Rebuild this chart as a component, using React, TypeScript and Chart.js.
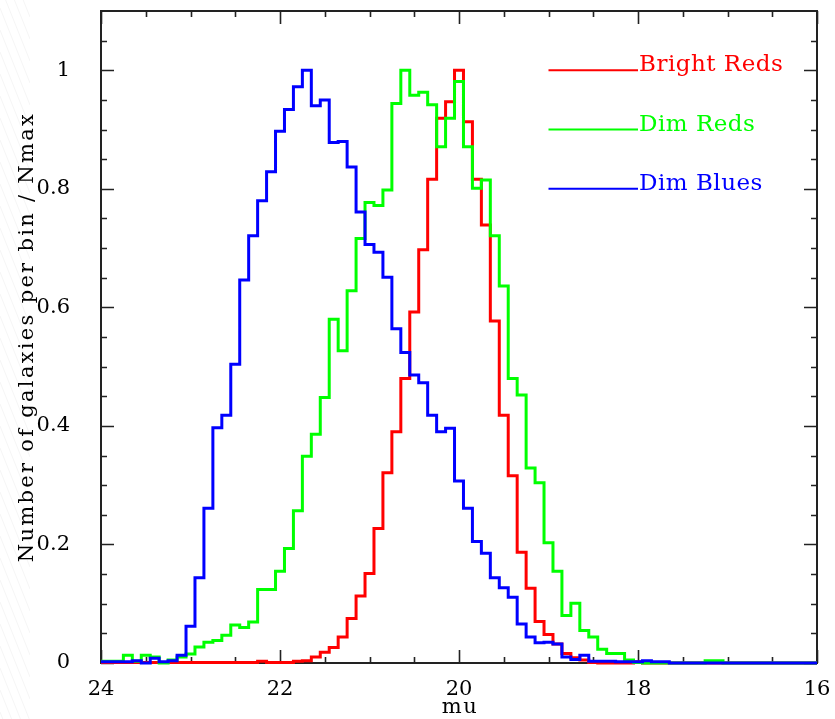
import React, { useEffect, useRef } from "react";
import { Chart, registerables } from "chart.js";

Chart.register(...registerables);

// Bin centres (mu), width 0.1
const binCenters = [
  24.0, 23.9, 23.8, 23.7, 23.6, 23.5, 23.4, 23.3, 23.2, 23.1,
  23.0, 22.9, 22.8, 22.7, 22.6, 22.5, 22.4, 22.3, 22.2, 22.1,
  22.0, 21.9, 21.8, 21.7, 21.6, 21.5, 21.4, 21.3, 21.2, 21.1,
  21.0, 20.9, 20.8, 20.7, 20.6, 20.5, 20.4, 20.3, 20.2, 20.1,
  20.0, 19.9, 19.8, 19.7, 19.6, 19.5, 19.4, 19.3, 19.2, 19.1,
  19.0, 18.9, 18.8, 18.7, 18.6, 18.5, 18.4, 18.3, 18.2, 18.1,
  18.0, 17.9, 17.8, 17.7, 17.6, 17.5, 17.4, 17.3, 17.2, 17.1,
  17.0, 16.9, 16.8, 16.7, 16.6, 16.5, 16.4, 16.3, 16.2, 16.1,
  16.0,
];

const brightReds = [
  0.001, 0.001, 0.001, 0.001, 0.001, 0.001, 0.001, 0.001, 0.001, 0.001,
  0.001, 0.001, 0.001, 0.001, 0.001, 0.001, 0.001, 0.001, 0.003, 0.001,
  0.001, 0.001, 0.003, 0.004, 0.010, 0.018, 0.026, 0.044, 0.075, 0.113,
  0.151, 0.227, 0.321, 0.390, 0.480, 0.592, 0.697, 0.816, 0.919, 0.947,
  1.000, 0.913, 0.816, 0.739, 0.577, 0.418, 0.316, 0.187, 0.126, 0.070,
  0.048, 0.032, 0.016, 0.009, 0.005, 0.001, 0.000, 0.000, 0.000, 0.000,
  0.002, 0.000, 0.000, 0.000, 0.000, 0.000, 0.000, 0.000, 0.000, 0.000,
  0.000, 0.000, 0.000, 0.000, 0.000, 0.000, 0.000, 0.000, 0.000, 0.000,
  0.000,
];

const dimReds = [
  0.003, 0.003, 0.003, 0.013, 0.003, 0.013, 0.010, 0.000, 0.005, 0.010,
  0.015, 0.027, 0.035, 0.038, 0.047, 0.064, 0.060, 0.069, 0.124, 0.124,
  0.155, 0.193, 0.257, 0.349, 0.386, 0.448, 0.580, 0.527, 0.628, 0.716,
  0.777, 0.772, 0.798, 0.944, 1.000, 0.958, 0.963, 0.942, 0.871, 0.919,
  0.981, 0.871, 0.801, 0.815, 0.721, 0.636, 0.480, 0.452, 0.329, 0.304,
  0.203, 0.155, 0.080, 0.101, 0.055, 0.044, 0.023, 0.016, 0.016, 0.005,
  0.001, 0.000, 0.000, 0.000, 0.000, 0.000, 0.000, 0.000, 0.004, 0.004,
  0.000, 0.000, 0.000, 0.000, 0.000, 0.000, 0.000, 0.000, 0.000, 0.000,
  0.000,
];

const dimBlues = [
  0.002, 0.002, 0.002, 0.002, 0.004, 0.000, 0.008, 0.002, 0.004, 0.013,
  0.062, 0.144, 0.261, 0.397, 0.418, 0.504, 0.646, 0.721, 0.780, 0.829,
  0.897, 0.934, 0.972, 1.000, 0.940, 0.950, 0.878, 0.880, 0.837, 0.761,
  0.706, 0.693, 0.651, 0.564, 0.524, 0.486, 0.473, 0.418, 0.390, 0.396,
  0.307, 0.261, 0.205, 0.185, 0.144, 0.127, 0.111, 0.066, 0.044, 0.034,
  0.035, 0.032, 0.010, 0.006, 0.013, 0.003, 0.003, 0.003, 0.002, 0.002,
  0.002, 0.004, 0.002, 0.002, 0.000, 0.000, 0.000, 0.000, 0.000, 0.000,
  0.000, 0.000, 0.000, 0.000, 0.000, 0.000, 0.000, 0.000, 0.000, 0.000,
  0.000,
];

const xTickValues = [24, 22, 20, 18, 16];
const yTickValues = [0, 0.2, 0.4, 0.6, 0.8, 1];

const seriesLabels = ["Bright Reds", "Dim Reds", "Dim Blues"];
const seriesColors = ["#ff0000", "#00ff00", "#0000ff"];
const legendYs = [1.0, 0.9, 0.8];
const legendXs = [19, 18];

const xTitle = "mu";
const yTitle = "Number of galaxies per bin / Nmax";

const FONT = '"DejaVu Serif", serif';

export default function App() {
  const ref = useRef<HTMLCanvasElement>(null);

  useEffect(() => {
    document.body.style.margin = "0";
    const canvas = ref.current!;
    const toPts = (vals: number[]) => binCenters.map((x, i) => ({ x, y: vals[i] }));
    const seriesValues = [brightReds, dimReds, dimBlues];

    const framePlugin = {
      id: "frame",
      beforeDraw(chart: any) {
        const ctx = chart.ctx;
        ctx.save();
        ctx.beginPath();
        ctx.rect(0, 0, 30, chart.height);
        ctx.clip();
        ctx.strokeStyle = "rgba(0,0,0,0.045)";
        ctx.lineWidth = 1;
        for (let y = -80; y < chart.height; y += 22) {
          ctx.beginPath();
          ctx.moveTo(0, y);
          ctx.lineTo(30, y + 75);
          ctx.stroke();
        }
        ctx.restore();
      },
      beforeDatasetsDraw(chart: any) {
        const ctx = chart.ctx;
        const { left, right, top, bottom } = chart.chartArea;
        const xs = chart.scales.x;
        const ys = chart.scales.y;
        ctx.save();
        ctx.strokeStyle = "#222";
        ctx.lineWidth = 2;
        ctx.strokeRect(left, top, right - left, bottom - top);
        ctx.lineWidth = 1.6;
        ctx.beginPath();
        for (let k = 0; k <= 16; k++) {
          const v = 16 + k * 0.5;
          const px = Math.round(xs.getPixelForValue(v)) + 0.5;
          const len = k % 4 === 0 ? 13 : 6;
          ctx.moveTo(px, bottom);
          ctx.lineTo(px, bottom - len);
          ctx.moveTo(px, top);
          ctx.lineTo(px, top + len);
        }
        for (let k = 0; k <= 21; k++) {
          const v = k * 0.05;
          const py = Math.round(ys.getPixelForValue(v)) + 0.5;
          const len = k % 4 === 0 ? 13 : 6;
          ctx.moveTo(left, py);
          ctx.lineTo(left + len, py);
          ctx.moveTo(right, py);
          ctx.lineTo(right - len, py);
        }
        ctx.stroke();
        ctx.restore();
      },
      afterDatasetsDraw(chart: any) {
        const ctx = chart.ctx;
        const xs = chart.scales.x;
        const ys = chart.scales.y;
        ctx.save();
        // legend texts
        ctx.font = `23px ${FONT}`;
        ctx.textAlign = "left";
        ctx.textBaseline = "alphabetic";
        (ctx as any).letterSpacing = "0.5px";
        seriesLabels.forEach((lab, i) => {
          ctx.fillStyle = seriesColors[i];
          ctx.fillText(lab, xs.getPixelForValue(legendXs[1]) + 1, ys.getPixelForValue(legendYs[i]) + 1);
        });
        // axis titles
        ctx.fillStyle = "#000";
        ctx.font = `21px ${FONT}`;
        ctx.textAlign = "center";
        (ctx as any).letterSpacing = "1.5px";
        ctx.fillText(xTitle, (chart.chartArea.left + chart.chartArea.right) / 2 + 1, 713);
        ctx.translate(33, (chart.chartArea.top + chart.chartArea.bottom) / 2);
        ctx.rotate(-Math.PI / 2);
        (ctx as any).letterSpacing = "2.3px";
        ctx.fillText(yTitle, 0, 0);
        ctx.restore();
      },
    };

    const histSets = [2, 1, 0].map((i) => ({
      label: seriesLabels[i],
      data: toPts(seriesValues[i]),
      borderColor: seriesColors[i],
      backgroundColor: seriesColors[i],
      borderWidth: 3,
      pointRadius: 0,
      stepped: "middle" as const,
      fill: false,
      clip: false as any,
    }));
    const legendSets = [0, 1, 2].map((i) => ({
      label: seriesLabels[i] + " key",
      data: legendXs.map((x) => ({ x, y: legendYs[i] })),
      borderColor: seriesColors[i],
      borderWidth: 2,
      pointRadius: 0,
      fill: false,
      clip: false as any,
    }));

    const tickFont = { family: FONT, size: 21 };

    const chart = new Chart(canvas, {
      type: "line",
      data: { datasets: [...histSets, ...legendSets] as any },
      plugins: [framePlugin],
      options: {
        animation: false,
        responsive: false,
        maintainAspectRatio: false,
        layout: { padding: { top: 11, right: 18, bottom: 0, left: 0 } },
        plugins: { legend: { display: false }, tooltip: { enabled: false } },
        scales: {
          x: {
            type: "linear",
            reverse: true,
            min: 16,
            max: 24,
            grid: { display: false },
            border: { display: false },
            ticks: {
              padding: 6,
              color: "#000",
              font: tickFont,
              maxRotation: 0,
              autoSkip: false,
              callback: (v: any) => String(v),
            },
            afterBuildTicks: (s: any) => {
              s.ticks = xTickValues.map((value) => ({ value }));
            },
            afterFit: (s: any) => {
              s.height = 56;
              s.paddingLeft = 0;
              s.paddingRight = 0;
            },
          },
          y: {
            type: "linear",
            min: 0,
            max: 1.1,
            grid: { display: false },
            border: { display: false },
            ticks: {
              padding: 23,
              color: "#000",
              font: tickFont,
              autoSkip: false,
              callback: (v: any) => String(Math.round(v * 10) / 10),
            },
            afterBuildTicks: (s: any) => {
              s.ticks = yTickValues.map((value) => ({ value }));
            },
            afterFit: (s: any) => {
              s.width = 101;
              s.paddingTop = 0;
              s.paddingBottom = 0;
            },
          },
        },
      } as any,
    });
    return () => chart.destroy();
  }, []);

  return (
    <div style={{ width: 835, height: 719, background: "#fff" }}>
      <canvas ref={ref} width={835} height={719} style={{ display: "block" }} />
    </div>
  );
}
